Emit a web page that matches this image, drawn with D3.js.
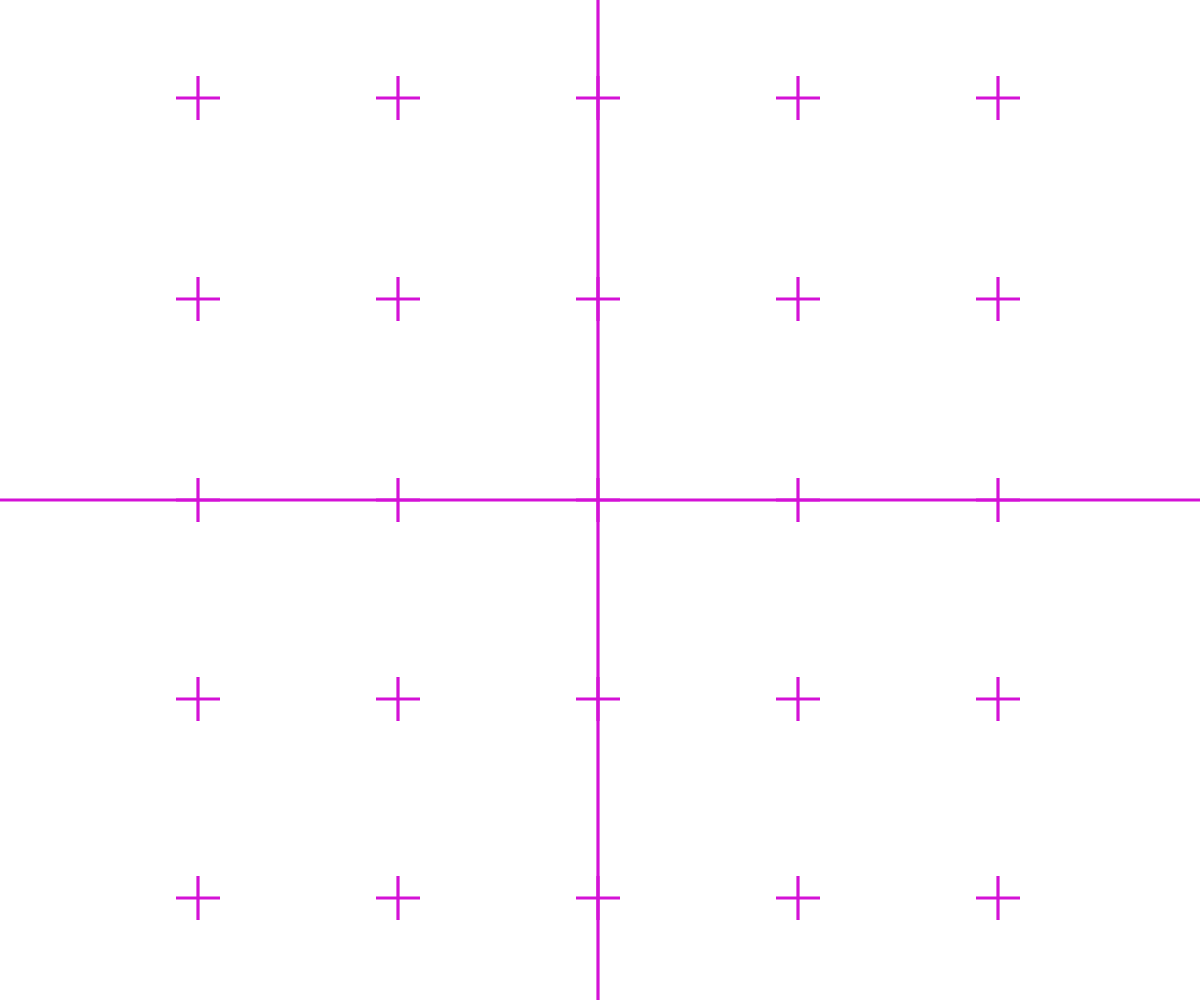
<!DOCTYPE html>
<html>
<head>
<meta charset="utf-8">
<script src="https://cdn.jsdelivr.net/npm/d3@7"></script>
<style>
html,body{margin:0;padding:0;background:#fff;}
svg{display:block;}
</style>
</head>
<body>
<svg id="chart" width="1200" height="1000"></svg>
<script>
const xValues = [-2, -1, 0, 1, 2];
const yValues = [2, 1, 0, -1, -2];
const color = "#d412d6";

const svg = d3.select("#chart");
const W = 1200, H = 1000;
const x = d3.scaleLinear().domain([-2, 0, 2]).range([198, 598, 998]);
const y = d3.scaleLinear().domain([-2, 0, 2]).range([898, 500, 98]);

const points = [];
yValues.forEach(yv => xValues.forEach(xv => points.push({x: xv, y: yv})));

// axis lines through the origin
svg.append("line")
  .attr("x1", 0).attr("x2", W)
  .attr("y1", y(0)).attr("y2", y(0))
  .attr("stroke", color).attr("stroke-width", 3.2);
svg.append("line")
  .attr("x1", x(0)).attr("x2", x(0))
  .attr("y1", 0).attr("y2", H)
  .attr("stroke", color).attr("stroke-width", 3.2);

const arm = 22;
const g = svg.append("g");
points.forEach(p => {
  const cx = x(p.x), cy = y(p.y);
  g.append("line").attr("x1", cx - arm).attr("x2", cx + arm)
    .attr("y1", cy).attr("y2", cy)
    .attr("stroke", color).attr("stroke-width", 3.2);
  g.append("line").attr("x1", cx).attr("x2", cx)
    .attr("y1", cy - arm).attr("y2", cy + arm)
    .attr("stroke", color).attr("stroke-width", 3.2);
});
</script>
</body>
</html>
